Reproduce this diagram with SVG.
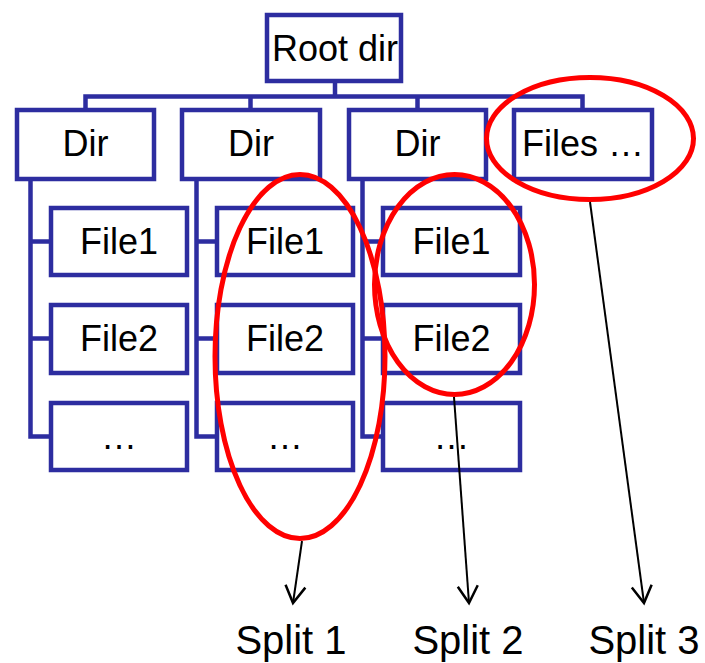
<svg xmlns="http://www.w3.org/2000/svg" width="705" height="663" viewBox="0 0 705 663">
  <defs>
    <style>
      .box { fill: #ffffff; stroke: #2D2DA0; stroke-width: 4.5; }
      .link { fill: none; stroke: #2D2DA0; stroke-width: 4.5; stroke-linejoin: miter; }
      .lbl { font-family: "Liberation Sans", Arial, sans-serif; font-size: 36px; fill: #000000; text-anchor: middle; }
      .split { font-family: "Liberation Sans", Arial, sans-serif; font-size: 40px; fill: #000000; text-anchor: middle; }
      .ring { fill: none; stroke: #FF0000; stroke-width: 5; }
      .arrow { fill: none; stroke: #000000; stroke-width: 2; marker-end: url(#vhead); }
    </style>
    <marker id="vhead" markerUnits="userSpaceOnUse" markerWidth="24" markerHeight="24" viewBox="-20 -12 24 24" refX="0" refY="0" orient="auto">
      <path d="M-17,-10 L0,0 L-17,10" fill="none" stroke="#000000" stroke-width="2.5"/>
    </marker>
  </defs>

  <!-- tree connectors -->
  <g id="connectors">
    <path class="link" d="M335 81 V96.5"/>
    <path class="link" d="M85.5 110 V96.5 H582.5 V110"/>
    <path class="link" d="M250.5 96.5 V110"/>
    <path class="link" d="M417.5 96.5 V110"/>
    <!-- column trunks -->
    <path class="link" d="M30.5 179 V436.5 H51 M30.5 241.5 H51 M30.5 338.5 H51"/>
    <path class="link" d="M196.5 179 V436.5 H217 M196.5 241.5 H217 M196.5 338.5 H217"/>
    <path class="link" d="M362.5 179 V436.5 H383 M362.5 241.5 H383 M362.5 338.5 H383"/>
  </g>

  <g id="root">
    <rect class="box" x="267" y="15" width="134" height="66"/>
    <text class="lbl" x="335" y="61">Root dir</text>
  </g>

  <g id="dir1">
    <rect class="box" x="17" y="110" width="137" height="69"/>
    <text class="lbl" x="85.5" y="156">Dir</text>
  </g>
  <g id="dir2">
    <rect class="box" x="182" y="110" width="138" height="69"/>
    <text class="lbl" x="251" y="156">Dir</text>
  </g>
  <g id="dir3">
    <rect class="box" x="349" y="110" width="137" height="69"/>
    <text class="lbl" x="417.5" y="156">Dir</text>
  </g>
  <g id="files">
    <rect class="box" x="514" y="110" width="138" height="69"/>
    <text class="lbl" x="583" y="156">Files …</text>
  </g>

  <g id="c1-file1">
    <rect class="box" x="51" y="208" width="136" height="67"/>
    <text class="lbl" x="119" y="254">File1</text>
  </g>
  <g id="c1-file2">
    <rect class="box" x="51" y="305" width="136" height="68"/>
    <text class="lbl" x="119" y="351">File2</text>
  </g>
  <g id="c1-more">
    <rect class="box" x="51" y="403" width="136" height="67"/>
    <text class="lbl" x="119" y="449">…</text>
  </g>

  <g id="c2-file1">
    <rect class="box" x="217" y="208" width="136" height="67"/>
    <text class="lbl" x="285" y="254">File1</text>
  </g>
  <g id="c2-file2">
    <rect class="box" x="217" y="305" width="136" height="68"/>
    <text class="lbl" x="285" y="351">File2</text>
  </g>
  <g id="c2-more">
    <rect class="box" x="217" y="403" width="136" height="67"/>
    <text class="lbl" x="285" y="449">…</text>
  </g>

  <g id="c3-file1">
    <rect class="box" x="383" y="208" width="137" height="67"/>
    <text class="lbl" x="451.5" y="254">File1</text>
  </g>
  <g id="c3-file2">
    <rect class="box" x="383" y="305" width="137" height="68"/>
    <text class="lbl" x="451.5" y="351">File2</text>
  </g>
  <g id="c3-more">
    <rect class="box" x="383" y="403" width="137" height="67"/>
    <text class="lbl" x="451.5" y="449">…</text>
  </g>

  <!-- split groupings -->
  <g id="split-rings">
    <ellipse class="ring" cx="300" cy="356.5" rx="85" ry="182"/>
    <ellipse class="ring" cx="454.5" cy="284.5" rx="80" ry="110"/>
    <ellipse class="ring" cx="590" cy="138.5" rx="103.5" ry="61"/>
  </g>

  <g id="split-arrows">
    <line class="arrow" x1="302" y1="541" x2="293" y2="603"/>
    <line class="arrow" x1="454" y1="397" x2="469" y2="603"/>
    <line class="arrow" x1="590" y1="202" x2="644" y2="603"/>
  </g>

  <g id="split-labels">
    <text class="split" x="291" y="654">Split 1</text>
    <text class="split" x="468" y="654">Split 2</text>
    <text class="split" x="644" y="654">Split 3</text>
  </g>
</svg>
